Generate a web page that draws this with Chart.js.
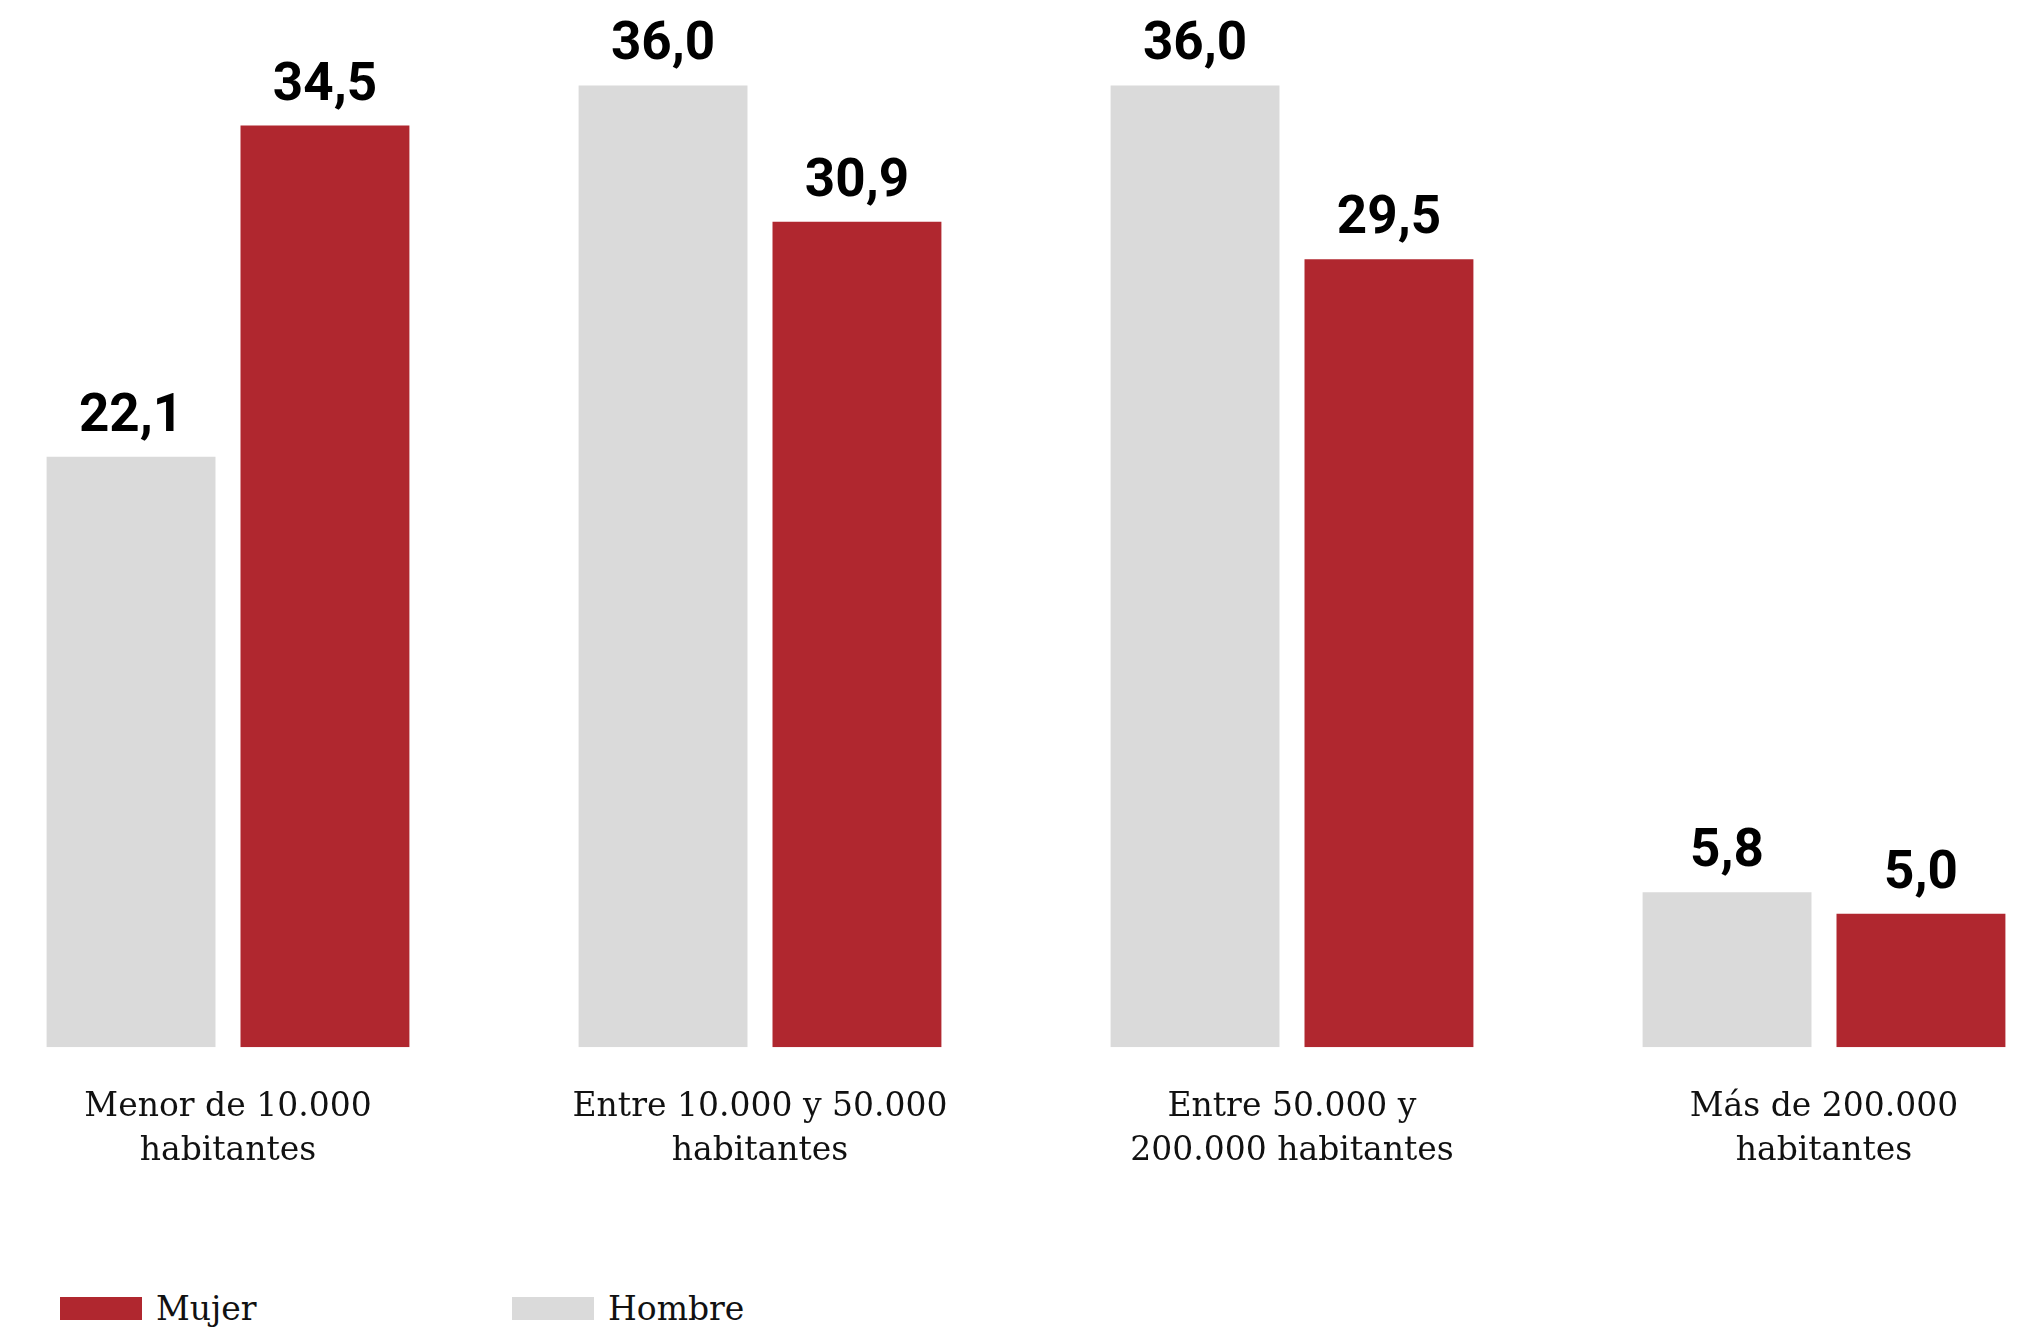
<!DOCTYPE html>
<html>
<head>
<meta charset="utf-8">
<script src="https://cdn.jsdelivr.net/npm/chart.js@4"></script>
<style>
  html, body { margin: 0; padding: 0; background: #fff; overflow: hidden; }
  body { width: 2019px; height: 1329px; position: relative; }
  #wrap { position: absolute; left: -38px; top: 0; width: 2128px; height: 1211px; }
  #legend { position: absolute; left: 60px; top: 1289px; font-family: "DejaVu Serif", serif; font-size: 33px; color: #111; }
  .item { position: absolute; top: 0; white-space: nowrap; display: flex; align-items: center; }
  .box { width: 82px; height: 23px; margin-right: 14px; }
</style>
</head>
<body>
<div id="wrap"><canvas id="chart"></canvas></div>
<div id="legend"></div>
<script>
document.addEventListener("DOMContentLoaded", function () {
    // Tamaño de municipio
    const categorias = [
        ["Menor de 10.000", "habitantes"],
        ["Entre 10.000 y 50.000", "habitantes"],
        ["Entre 50.000 y", "200.000 habitantes"],
        ["Más de 200.000", "habitantes"]
    ];
    const hombre = [22.1, 36.0, 36.0, 5.8];
    const mujer = [34.5, 30.9, 29.5, 5.0];

    const rojo = "#b0272f";
    const gris = "#dadada";

    // etiquetas de valor encima de cada barra
    const valueLabels = {
        id: "valueLabels",
        afterDatasetsDraw(chart) {
            const ctx = chart.ctx;
            ctx.save();
            ctx.font = "bold 53px Roboto";
            ctx.fillStyle = "#000";
            ctx.textAlign = "center";
            ctx.textBaseline = "alphabetic";
            chart.data.datasets.forEach((ds, i) => {
                chart.getDatasetMeta(i).data.forEach((bar, j) => {
                    const txt = ds.data[j].toFixed(1).replace(".", ",");
                    ctx.fillText(txt, bar.x, bar.y - 26);
                });
            });
            ctx.restore();
        }
    };

    const ctx = document.getElementById("chart").getContext("2d");
    const chart = new Chart(ctx, {
        type: "bar",
        data: {
            labels: categorias,
            datasets: [{
                label: "Hombre",
                data: hombre,
                backgroundColor: gris
            }, {
                label: "Mujer",
                data: mujer,
                backgroundColor: rojo
            }]
        },
        options: {
            responsive: true,
            maintainAspectRatio: false,
            animation: false,
            categoryPercentage: 0.729,
            barPercentage: 0.871,
            layout: { padding: 0 },
            plugins: {
                legend: { display: false },
                tooltip: { enabled: false }
            },
            scales: {
                x: {
                    grid: { display: false, drawTicks: false },
                    border: { display: false },
                    ticks: {
                        padding: 38,
                        color: "#111",
                        font: { family: "DejaVu Serif", size: 33, lineHeight: 1.33 },
                        maxRotation: 0,
                        autoSkip: false
                    }
                },
                y: {
                    display: false,
                    min: 0,
                    max: 39.2
                }
            }
        },
        plugins: [valueLabels]
    });

    // leyenda (Mujer primero, como en el original)
    const legend = document.getElementById("legend");
    const orden = [1, 0];
    const lefts = [0, 452];
    orden.forEach((idx, k) => {
        const ds = chart.data.datasets[idx];
        const item = document.createElement("div");
        item.className = "item";
        item.style.left = lefts[k] + "px";
        const box = document.createElement("span");
        box.className = "box";
        box.style.background = ds.backgroundColor;
        item.appendChild(box);
        item.appendChild(document.createTextNode(ds.label));
        legend.appendChild(item);
    });
});
</script>
</body>
</html>
